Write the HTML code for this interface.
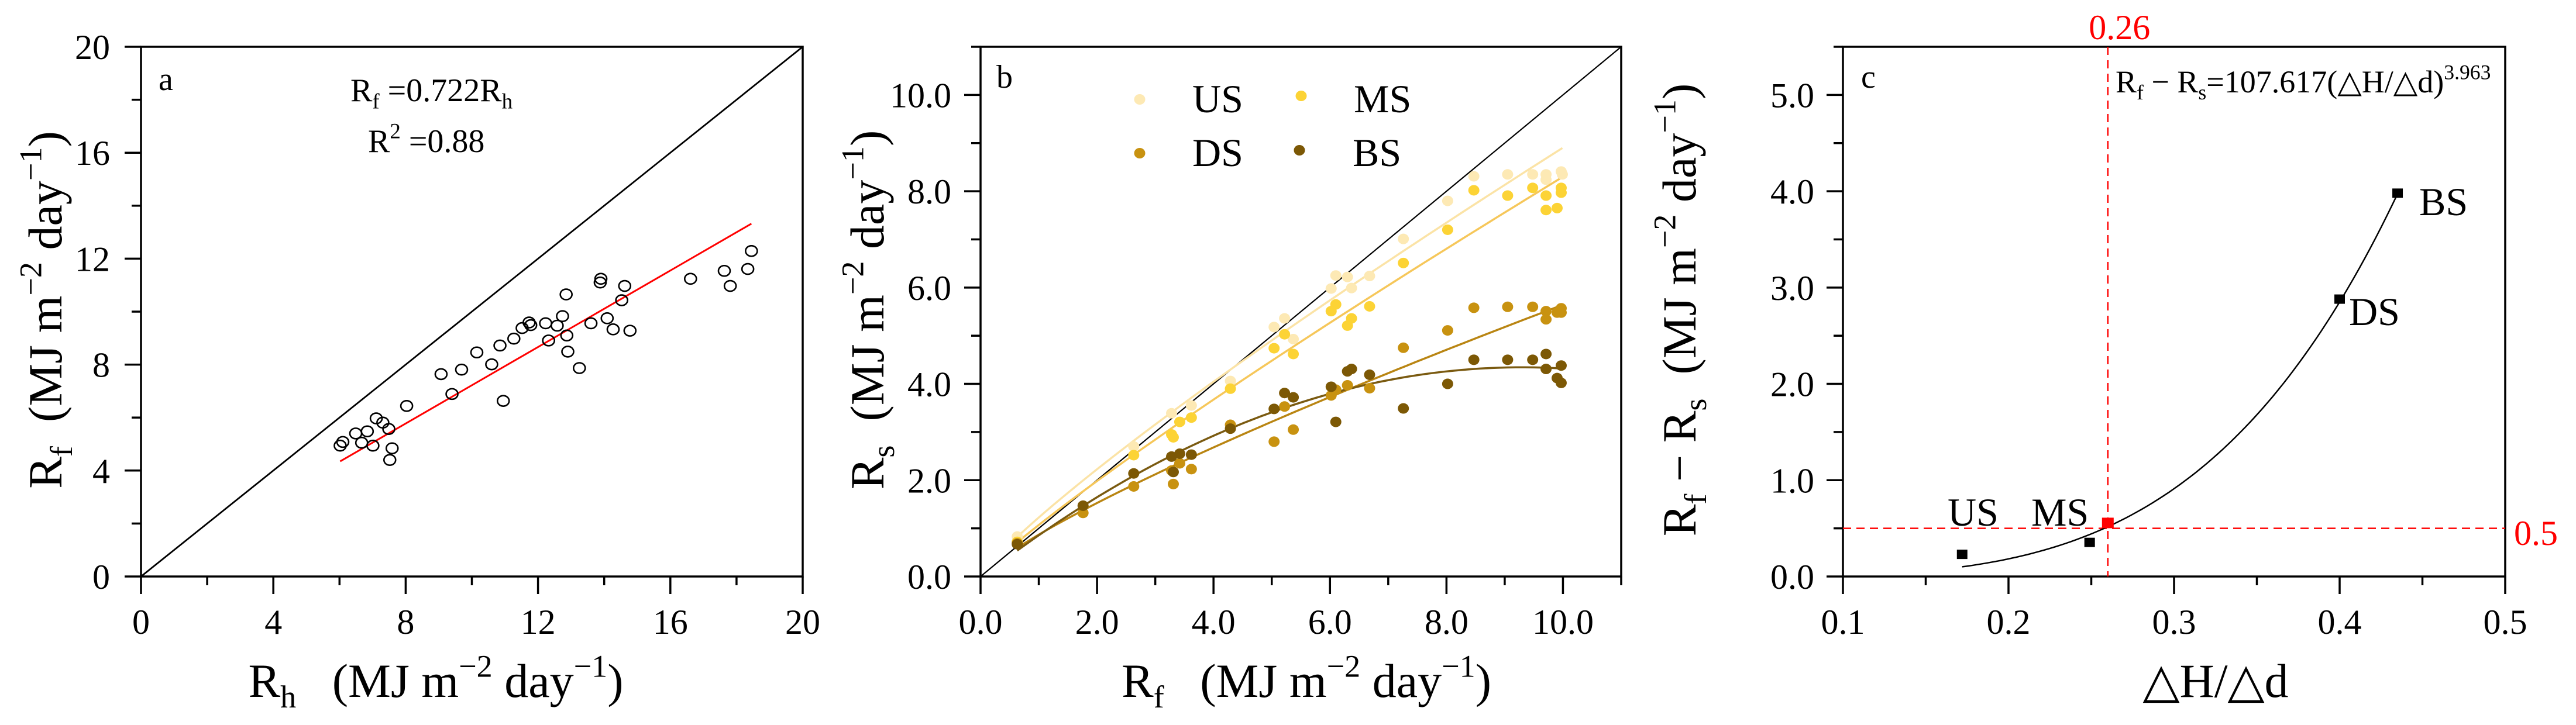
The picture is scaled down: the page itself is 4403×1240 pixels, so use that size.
<!DOCTYPE html>
<html><head><meta charset="utf-8">
<style>
html,body{margin:0;padding:0;background:#fff;}
svg{display:block;font-family:"Liberation Serif","DejaVu Serif",serif;}
text{white-space:pre;}
</style></head>
<body>
<svg id="fig" xmlns="http://www.w3.org/2000/svg" width="4403" height="1240" viewBox="0 0 4403 1240"></svg>
<script>
// ---------- Panel a data ----------
const aRh = [6.02,6.10,6.49,6.67,6.84,7.01,7.11,7.31,7.49,7.59,7.52,8.03,9.07,9.40,9.69,10.15,10.60,10.85,10.95,11.27,11.52,11.73,11.78,12.23,12.32,12.58,12.74,12.85,12.87,12.90,13.25,13.60,13.88,13.90,14.09,14.27,14.53,14.62,14.78,16.61,17.63,17.81,18.34,18.45];
const aRf = [4.94,5.08,5.40,5.05,5.48,4.94,5.97,5.81,5.57,4.84,4.40,6.44,7.64,6.89,7.81,8.46,8.01,8.72,6.63,8.98,9.38,9.59,9.49,9.56,8.91,9.47,9.83,10.65,9.10,8.49,7.87,9.56,11.10,11.24,9.75,9.33,10.43,10.97,9.28,11.24,11.54,10.97,11.61,12.29];
const aSlope = 0.722;
const aTicks = [0,4,8,12,16,20];

// ---------- Panel b data ----------
const bUSx = [0.63,2.63,3.28,3.62,4.29,5.04,5.22,5.37,6.02,6.10,6.30,6.37,6.68,7.26,8.02,8.47,9.05,9.48,9.71,9.71,9.97,9.99];
const bUSy = [0.83,2.70,3.39,3.55,4.06,5.18,5.36,4.93,5.98,6.25,6.22,5.99,6.24,7.01,7.80,8.31,8.35,8.35,8.35,8.24,8.41,8.35];
const bMSx = [0.63,2.63,3.28,3.31,3.42,3.62,4.29,5.04,5.22,5.37,6.02,6.10,6.30,6.37,6.68,7.26,8.02,8.47,9.05,9.48,9.71,9.71,9.90,9.97,9.97];
const bMSy = [0.72,2.52,2.95,2.89,3.21,3.30,3.90,4.74,5.03,4.62,5.51,5.65,5.21,5.36,5.61,6.51,7.20,8.02,7.91,8.07,7.91,7.61,7.65,8.07,7.97];
const bDSx = [0.63,1.76,2.63,3.28,3.31,3.42,3.62,4.29,5.04,5.22,5.37,6.02,6.10,6.30,6.68,7.26,8.02,8.47,9.05,9.48,9.71,9.71,9.90,9.97,9.97];
const bDSy = [0.69,1.32,1.87,2.20,1.92,2.35,2.23,3.15,2.80,3.53,3.05,3.76,3.88,3.97,3.91,4.75,5.11,5.58,5.60,5.60,5.34,5.51,5.48,5.57,5.48];
const bBSx = [0.63,1.76,2.63,3.28,3.31,3.42,3.62,4.29,5.04,5.22,5.37,6.02,6.10,6.30,6.37,6.68,7.26,8.02,8.47,9.05,9.48,9.71,9.71,9.90,9.97,9.97];
const bBSy = [0.67,1.47,2.14,2.49,2.17,2.55,2.53,3.07,3.48,3.81,3.72,3.94,3.21,4.26,4.31,4.19,3.49,4.00,4.50,4.50,4.50,4.62,4.31,4.12,4.38,4.02];
const bTicks = [0,2,4,6,8,10];
const bTickLabels = ["0.0","2.0","4.0","6.0","8.0","10.0"];

// ---------- Panel c data ----------
const cLabels = ["US","MS","DS","BS"];
const cX = [0.172,0.249,0.400,0.435];
const cY = [0.23,0.354,2.88,3.98];
const cThreshX = 0.26, cThreshY = 0.5, cThreshPtY = 0.556;
const cCoef = 107.617, cExp = 3.963;
const cXTicks = [0.1,0.2,0.3,0.4,0.5];
const cXTickLabels = ["0.1","0.2","0.3","0.4","0.5"];
const cYTicks = [0,1,2,3,4,5];
const cYTickLabels = ["0.0","1.0","2.0","3.0","4.0","5.0"];

const NS = "http://www.w3.org/2000/svg";
const svg = document.getElementById("fig");
function el(tag, attrs, parent){
  const e = document.createElementNS(NS, tag);
  for (const k in attrs) e.setAttribute(k, attrs[k]);
  (parent||svg).appendChild(e);
  return e;
}
function txt(parent, x, y, parts, size, anchor, fill){
  const t = el("text",{x:x,y:y,"font-size":size,"text-anchor":anchor||"start",fill:fill||"#000"},parent);
  parts.forEach(p=>{
    const s = el("tspan",{},t);
    if (p[1]==="sub"){ s.setAttribute("font-size", size*0.66); s.setAttribute("dy", size*0.22); }
    else if (p[1]==="sup"){ s.setAttribute("font-size", size*0.66); s.setAttribute("dy", -size*0.42); }
    else if (p[1]==="back"){ s.setAttribute("dy", p[2]); }
    s.textContent = p[0];
  });
  return t;
}
const TOP = 80, BOT = 986;
const TICKFS = 60, TITLEFS = 82, XLAB_Y = 1084, XTITLE_Y = 1192, YTITLE_CY = 530;

function frame(g, L, R){
  const f = el("rect",{x:L,y:TOP,width:R-L,height:BOT-TOP,fill:"none",stroke:"#000","stroke-width":3.5},g);
  
  
}
function xTick(g, px, major){
  const t = el("line",{x1:px,x2:px,y1:BOT,y2:BOT+(major?30:15),stroke:"#000","stroke-width":3.5},g);
  
  
}
function yTick(g, L, py, major){
  const t = el("line",{x1:L,x2:L-(major?28:16),y1:py,y2:py,stroke:"#000","stroke-width":3.5},g);
  
  
}
function unitsParts(sym, sub){
  return [[sym],[sub,"sub"],["  (MJ m","back",-TITLEFS*0.22],["−2","sup"],[" day","back",TITLEFS*0.42],["−1","sup"],[")","back",TITLEFS*0.42]];
}

// ===================== Panel a =====================
(function(){
  const g = el("g",{});
  
  
  const L=241, R=1372;
  const sx = v => L + v/20*(R-L);
  const sy = v => BOT - v/20*(BOT-TOP);
  frame(g,L,R);
  const d = el("line",{x1:sx(0),y1:sy(0),x2:sx(20),y2:sy(20),stroke:"#000","stroke-width":2.8},g);
  
  
  for (let v=0; v<=20; v+=2){ xTick(g,sx(v),v%4===0); yTick(g,L,sy(v),v%4===0); }
  aTicks.forEach(v=>{
    const t = txt(g, sx(v), XLAB_Y, [[String(v)]], TICKFS, "middle");
    
    
    const u = txt(g, 188, sy(v)+21, [[String(v)]], TICKFS, "end");
    
    
  });
  const xmin = Math.min(...aRh), xmax = Math.max(...aRh);
  const fit = el("line",{x1:sx(xmin),y1:sy(aSlope*xmin),x2:sx(xmax),y2:sy(aSlope*xmax),stroke:"#ff0000","stroke-width":3},g);
  
  
  aRh.forEach((x,i)=>{
    const c = el("ellipse",{cx:sx(x),cy:sy(aRf[i]),rx:10,ry:9,fill:"none",stroke:"#000","stroke-width":2.6},g);
    
    
  });
  const lab = txt(g, 271, 154, [["a"]], 56, "start");
  
  
  const eq = txt(g, 599, 173, [["R"],["f","sub"],[" =0.722R","back",-56*0.22],["h","sub"]], 56, "start");
  
  
  const r2 = txt(g, 629, 260, [["R"],["2","sup"],[" =0.88","back",56*0.42]], 56, "start");
  
  
  const xt = txt(g, 745, XTITLE_Y, [["R"],["h","sub"],["   (MJ m","back",-TITLEFS*0.22],["−2","sup"],[" day","back",TITLEFS*0.42],["−1","sup"],[")","back",TITLEFS*0.42]], TITLEFS, "middle");
  
  
  const yt = txt(g, 0, 0, unitsParts("R","f"), TITLEFS, "middle");
  yt.setAttribute("transform","translate(105,"+YTITLE_CY+") rotate(-90)");
  
  
})();

// ===================== Panel b =====================
function powFit(xs, ys){
  const n=xs.length; let sl=0,sy=0,sll=0,sly=0;
  xs.forEach((x,i)=>{ const l=Math.log(x), m=Math.log(ys[i]); sl+=l; sy+=m; sll+=l*l; sly+=l*m; });
  const b=(n*sly-sl*sy)/(n*sll-sl*sl), a=Math.exp((sy-b*sl)/n);
  return x => a*Math.pow(x,b);
}
function quadFit(xs, ys){
  let S=[0,0,0,0,0], T=[0,0,0];
  xs.forEach((x,i)=>{ let p=1; for(let k=0;k<5;k++){S[k]+=p; if(k<3) T[k]+=p*ys[i]; p*=x;} });
  const M=[[S[0],S[1],S[2],T[0]],[S[1],S[2],S[3],T[1]],[S[2],S[3],S[4],T[2]]];
  for(let i=0;i<3;i++){ for(let j=i+1;j<3;j++){ const f=M[j][i]/M[i][i]; for(let k=i;k<4;k++) M[j][k]-=f*M[i][k]; } }
  const c=[0,0,0];
  for(let i=2;i>=0;i--){ let s=M[i][3]; for(let k=i+1;k<3;k++) s-=M[i][k]*c[k]; c[i]=s/M[i][i]; }
  return x => c[0]+c[1]*x+c[2]*x*x;
}
(function(){
  const g = el("g",{});
  
  
  const L=1676, R=2771;
  const sx = v => L + v/11*(R-L);
  const sy = v => BOT - v/11*(BOT-TOP);
  frame(g,L,R);
  for (let v=0; v<=11; v+=1){ xTick(g,sx(v),v%2===0); yTick(g,L,sy(v),v%2===0); }
  bTicks.forEach((v,i)=>{
    const t = txt(g, sx(v), XLAB_Y, [[bTickLabels[i]]], TICKFS, "middle");
    
    
    const u = txt(g, 1626, sy(v)+21, [[bTickLabels[i]]], TICKFS, "end");
    
    
  });
  const d = el("line",{x1:sx(0),y1:sy(0),x2:sx(11),y2:sy(11),stroke:"#000","stroke-width":2.2},g);
  
  
  const series = [
    ["US", bUSx, bUSy, "#fde9b4", "#fbe3a6", powFit],
    ["MS", bMSx, bMSy, "#fcd335", "#f6c75a", powFit],
    ["DS", bDSx, bDSy, "#c89210", "#b98512", powFit],
    ["BS", bBSx, bBSy, "#7c5805", "#7a5a10", quadFit]
  ];
  series.forEach(s=>{
    const f = s[5](s[1], s[2]);
    const x0 = Math.min(...s[1]), x1 = Math.max(...s[1]);
    let dd = "";
    for (let k=0;k<=60;k++){ const x=x0+(x1-x0)*k/60; dd += (k?"L":"M")+sx(x).toFixed(1)+","+sy(f(x)).toFixed(1); }
    const p = el("path",{d:dd,fill:"none",stroke:s[4],"stroke-width":3.5},g);
    
    
  });
  series.forEach(s=>{
    s[1].forEach((x,i)=>{
      const e = el("ellipse",{cx:sx(x),cy:sy(s[2][i]),rx:9.5,ry:9,fill:s[3]},g);
      
      
    });
  });
  const legPos = [[1948,170,2038,192],[2224,164,2314,192],[1948,262,2038,284],[2221,257,2312,284]];
  series.forEach((s,i)=>{
    const lp = legPos[i];
    const m = el("ellipse",{cx:lp[0],cy:lp[1],rx:9.5,ry:9,fill:s[3]},g);
    
    
    const t = txt(g, lp[2], lp[3], [[s[0]]], 68, "start");
    
    
  });
  const lab = txt(g, 1703, 150, [["b"]], 56, "start");
  
  
  const xt = txt(g, 2233, XTITLE_Y, [["R"],["f","sub"],["   (MJ m","back",-TITLEFS*0.22],["−2","sup"],[" day","back",TITLEFS*0.42],["−1","sup"],[")","back",TITLEFS*0.42]], TITLEFS, "middle");
  
  
  const yt = txt(g, 0, 0, unitsParts("R","s"), TITLEFS, "middle");
  yt.setAttribute("transform","translate(1510,"+YTITLE_CY+") rotate(-90)");
  
  
})();

// ===================== Panel c =====================
(function(){
  const g = el("g",{});
  
  
  const L=3150, R=4282;
  const sx = v => L + (v-0.1)/0.4*(R-L);
  const sy = v => BOT - v/5.5*(BOT-TOP);
  frame(g,L,R);
  for (let k=0; k<=8; k++){ xTick(g,sx(0.1+k*0.05),k%2===0); }
  for (let k=0; k<=11; k++){ yTick(g,L,sy(k*0.5),k%2===0); }
  cXTicks.forEach((v,i)=>{
    const t = txt(g, sx(v), XLAB_Y, [[cXTickLabels[i]]], TICKFS, "middle");
    
    
  });
  cYTicks.forEach((v,i)=>{
    const u = txt(g, 3101, sy(v)+21, [[cYTickLabels[i]]], TICKFS, "end");
    
    
  });
  const vl = el("line",{x1:sx(cThreshX),x2:sx(cThreshX),y1:TOP,y2:BOT,stroke:"#ff0000","stroke-width":2.5,"stroke-dasharray":"14,9"},g);
  
  
  const hl = el("line",{x1:L,x2:R,y1:sy(cThreshY),y2:sy(cThreshY),stroke:"#ff0000","stroke-width":2.5,"stroke-dasharray":"14,9"},g);
  
  
  let dd="";
  const x0=cX[0], x1=cX[cX.length-1];
  for (let k=0;k<=80;k++){ const x=x0+(x1-x0)*k/80; const y=cCoef*Math.pow(x,cExp); dd += (k?"L":"M")+sx(x).toFixed(1)+","+sy(y).toFixed(1); }
  const p = el("path",{d:dd,fill:"none",stroke:"#000","stroke-width":2.5},g);
  
  
  cX.forEach((x,i)=>{
    const r = el("rect",{x:sx(x)-9,y:sy(cY[i])-8,width:18,height:16,fill:"#000"},g);
    
    
  });
  const rp = el("rect",{x:sx(cThreshX)-10,y:sy(cThreshPtY)-9,width:20,height:18,fill:"#ff0000"},g);
  
  
  const labPos = [[3329,899],[3472,899],[4015,556],[4135,368]];
  cLabels.forEach((s,i)=>{
    const t = txt(g, labPos[i][0], labPos[i][1], [[s]], 68, "start");
    
    
  });
  const t26 = txt(g, sx(cThreshX)+20, 67, [["0.26"]], 60, "middle", "#ff0000");
  
  
  const t05 = txt(g, 4297, 932, [["0.5"]], 60, "start", "#ff0000");
  
  
  const lab = txt(g, 3181, 150, [["c"]], 56, "start");
  
  
  const eq = txt(g, 3616, 158, [["R"],["f","sub"],[" − R","back",-54*0.22],["s","sub"],["=107.617(△H/△d)","back",-54*0.22],["3.963","sup"]], 54, "start");
  
  
  const xt = txt(g, 3787, XTITLE_Y, [["△H/△d"]], TITLEFS, "middle");
  
  
  const yt = txt(g, 0, 0, [["R"],["f","sub"],[" − R","back",-TITLEFS*0.22],["s","sub"],["  (MJ m","back",-TITLEFS*0.22],["−2","sup"],[" day","back",TITLEFS*0.42],["−1","sup"],[")","back",TITLEFS*0.42]], TITLEFS, "middle");
  yt.setAttribute("transform","translate(2898,"+YTITLE_CY+") rotate(-90)");
  
  
})();
</script>
</body></html>
